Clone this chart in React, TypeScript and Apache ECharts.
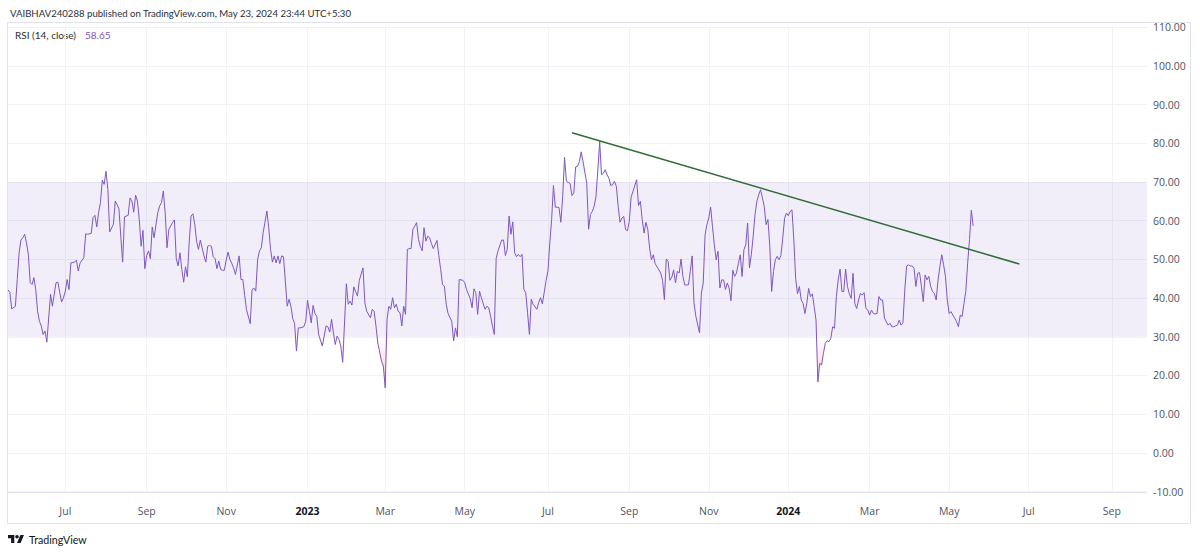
import React, { useEffect, useRef } from "react";
import * as echarts from "echarts";

const headerText = "VAIBHAV240288 published on TradingView.com, May 23, 2024 23:44 UTC+5:30";
const indicatorName = "RSI (14, close)";
const brandName = "TradingView";

// time scale: one slot per weekday bar, running past the last bar into the future
const axisStartDate = "2022-05-19";
const axisBarCount = 617;
const monthNames = ["Jan", "Feb", "Mar", "Apr", "May", "Jun", "Jul", "Aug", "Sep", "Oct", "Nov", "Dec"];

// price scale
const yMin = -10;
const yMax = 110;
const yStep = 10;
const bandLow = 30;
const bandHigh = 70;

// RSI readings: [bar index, value]
const rsi2022: [number, number][] = [
  [0,42.1],[1,41.5],[2,37.2],[4,37.9],[5,44.8],[6,51.7],[7,55],[8,55.6],[9,56.5],[10,54.3],[11,51.3],[12,44],[13,43.5],[14,45.3],[15,42.2],[16,36.6],[17,34],[18,32.8],[19,30.6],[20,31.5],[21,28.6],[23,41],[24,37.9],[25,41],[26,44],[27,44.1],[28,41.4],[29,39],[30,40.1],[31,41.8],[32,44.8],[33,42.2],[34,49.1],[36,49.3],[37,49.8],[38,47],[39,49.1],[41,50.4],[42,56.6],[43,56.5],[45,56.7],[46,60.8],[47,61.4],[48,58.4],[49,62.1],[50,64.7],[51,70.5],[52,69.4],[53,72.8],[54,68.1],[55,57.1],[57,59.1],[58,65.1],[60,63.1],[61,56],[62,49.3],[63,61],[65,61.4],[66,65.9],[67,65.1],[68,62.2],[69,66.6],[70,65.1],[71,60.3],[72,53.4],[73,57.5],[74,47.6],[75,51],[76,52.2],[77,50.2],[78,58.4],[79,55.6],[81,62.1],[82,63.8],[83,64.7],[84,67.7],[85,62.1],[86,53],[87,57.8],[89,59.5],[90,60.2],[91,50.2],[92,48.3],[93,51.7],[94,47.4],[95,44.1],[96,48.1],[97,45.5],[98,54.5],[99,61.2],[100,61.8],[101,59.1],[102,54.7],[103,52.6],[104,55],[106,50.9],[107,49.3],[108,53.4],[109,53.6],[110,53.4],[111,50.7],[112,50.2],[113,47.6],[114,49.6],[115,47.4],[116,47.2],[117,47.2],[118,49.8],[119,51.9],[120,50],[121,49],[122,47.8],[123,46.1],[125,50.9],[126,44.8],[127,44.8],[128,40.7],[129,37],[131,33.4],[132,42.2],[133,42.6],[134,41.8],[135,50],[136,52.2],[137,53],[138,56.9],[140,62.5],[141,58.2],[142,52.6],[143,49.3],[144,50.9],[145,49.1],[146,50.9],[147,48.9],[148,50.9],[149,50.7],[151,37.9],[152,39.7],[153,37.9],[154,34.7],[155,33.4],[156,26.3],[157,32.3],[158,32.3],[160,32.6],[161,34]
];
const rsi2023: [number, number][] = [
  [162,39.4],[163,36.6],[164,33.6],[165,38.1],[166,36],[167,35.3],[168,30.6],[170,27.6],[172,32.8],[173,32.6],[174,31.2],[175,34.5],[176,31],[177,28],[178,30.2],[179,29.3],[180,27.6],[181,23.4],[183,43.7],[184,38.4],[185,39.2],[186,38.2],[187,42.9],[189,40.5],[190,44.6],[192,47.8],[193,38.8],[194,36.6],[196,34.9],[197,37.1],[198,36.6],[199,32.8],[200,28.4],[202,23.7],[203,22.4],[204,16.8],[205,34.5],[206,37.9],[207,37.1],[208,40.1],[209,37.5],[210,38.4],[211,36.6],[212,36.2],[213,32.8],[214,37.9],[215,35.8],[216,52.6],[217,52.8],[218,52.8],[219,57.8],[220,58.6],[221,59.5],[222,55.2],[223,53.4],[224,52.2],[225,58.2],[226,54.7],[227,56],[228,55.6],[229,54.1],[230,52.8],[232,54.9],[233,51],[234,47.4],[235,43.5],[236,43.1],[237,38.4],[238,36],[240,34],[241,28.9],[242,32.3],[243,30],[244,44.8],[246,44.6],[247,44],[248,42.2],[250,39.8],[251,37.5],[252,42.4],[253,41.4],[254,35.8],[255,41.8],[256,40.1],[258,37.1],[259,37.9],[260,37.5],[261,35.3],[262,32.8],[263,30.6],[264,50.2],[265,52.2],[267,55],[268,55],[269,51],[270,52.6],[271,61.2],[272,56.5],[273,59.7],[274,51.7],[275,50.7],[276,51.3],[277,50.7],[278,51.3],[279,42.2],[280,41.4],[281,36.2],[282,30.6],[283,39.7],[284,38.4],[286,37.1],[287,38.8],[288,40.1],[289,38.5],[291,44.5],[292,47],[293,54],[294,60.3],[295,69.1],[296,63.5],[297,63.5],[298,63.4],[299,59.6],[300,66.3],[301,76.4],[302,70.2],[303,69.9],[304,69.6],[305,66.5],[306,67.2],[307,73.9],[308,74.1],[309,75.3],[310,77.8],[311,75.3],[313,69.7],[314,57.8],[315,61.6],[316,62.4],[317,63.7],[318,66.3],[319,73.2],[320,80.5],[321,71.9],[322,72.3],[323,73.2],[324,71.9],[325,71],[326,69.1],[327,69.3],[328,70.2],[329,68.9],[330,63.7],[331,59.6],[332,60.7],[333,61.1],[334,57.7],[335,57.4],[336,59.8],[337,66.1],[338,67.6],[340,70.6],[341,63.9],[342,65],[343,60.3],[344,56.8],[345,59.6],[346,57.8],[347,52.9],[348,49.9],[349,51.2],[350,48.9],[352,47.3],[353,46.5],[354,44.6],[355,39.6],[356,50.1],[357,49.5],[358,44.6],[359,45.4],[360,47.3],[361,43.9],[362,46.9],[363,46.5],[364,50.1],[365,45.6],[366,43.4],[368,43.4],[369,46.9],[370,50.9],[371,38.7],[372,35.3],[374,31],[375,41.3],[376,43.9],[377,56.4],[378,59],[379,60.7],[380,63.5],[381,58.5],[382,53.8],[383,49.9],[384,52.1],[385,42.6],[386,44.7],[387,44.7],[388,42.2],[389,43.9],[390,42.6],[391,39.3],[392,47.2],[393,45.6],[394,46.5],[395,49],[396,51.2],[397,45.6],[398,52.5],[399,53.8],[400,59.4],[401,47.8],[402,51.2],[403,55.9],[404,61.6],[405,65],[406,66.7],[407,68],[408,65.9],[409,63.7],[410,59],[411,60.3],[412,53.4],[413,41.7],[414,46.9],[415,49.9],[416,50.8],[417,49.9],[418,51],[419,55.5],[420,60.6],[421,62]
];
const rsi2024: [number, number][] = [
  [422,61.3],[423,62.4],[424,62.8],[425,55],[426,45],[427,41.1],[428,43],[429,39.5],[430,38.6],[431,36],[432,38.6],[433,42.5],[434,40.4],[435,41.1],[436,37.8],[437,34.3],[438,18.3],[439,23.1],[440,22.7],[441,25.7],[442,28.3],[443,29],[444,28.7],[445,29.6],[446,32.6],[447,32.2],[448,40.4],[449,44.7],[450,47.5],[451,41.7],[452,41.7],[453,47.5],[454,43],[455,41.1],[456,39.9],[457,46.4],[458,38.6],[459,37.3],[460,39.5],[461,41.2],[462,40.8],[463,41.4],[464,37.3],[465,36.9],[466,35.6],[467,36.9],[468,36],[469,35.9],[470,36],[471,40.4],[472,39.5],[473,39.5],[474,34.8],[475,33.9],[476,33],[477,33.5],[478,32.6],[479,32.6],[480,32.8],[481,33],[482,34.3],[483,33],[484,33.6],[485,42.1],[486,48.3],[487,48.6],[488,48.3],[489,48.3],[490,47.7],[491,43],[492,46.4],[493,46.6],[494,43],[495,39.1],[496,46],[497,44.7],[498,45.6],[499,43],[500,41.7],[501,41.2],[502,39.5],[503,44.7],[504,48.1],[505,51.2],[506,48.6],[507,45.6],[508,39.5],[509,36],[510,36.5],[511,35.6],[512,34.8],[513,33.9],[514,32.6],[515,35.6],[516,35.2],[517,38.6],[518,41.7],[519,49],[520,55.1],[521,62.7],[522,58.65]
];

// hand-drawn trend line: [bar index, value]
const trendLine: [number, number][] = [[305, 82.75], [547, 48.8]];

const FONT = "'Open Sans', 'Noto Sans', sans-serif";
const HEAD_FONT = "Lato, 'Open Sans', sans-serif";
const TEXT_COLOR = "#131722";
const LABEL_COLOR = "#50535e";
const GRID_COLOR = "#f0f2f7";
const BORDER_COLOR = "#e0e3eb";
const RSI_COLOR = "#7E57C2";

function buildDates(start: string, n: number): string[] {
  const out: string[] = [];
  const d = new Date(start + "T00:00:00Z");
  while (out.length < n) {
    const wd = d.getUTCDay();
    if (wd !== 0 && wd !== 6) out.push(d.toISOString().slice(0, 10));
    d.setUTCDate(d.getUTCDate() + 1);
  }
  return out;
}

const TV_LOGO = "M14 22H7V11H0V4h14v18zM28 22h-8l7.5-18h8L28 22zM24 8a4 4 0 1 1-8 0a4 4 0 1 1 8 0z";
let logoRegistered = false;

export default function App() {
  const ref = useRef<HTMLDivElement>(null);
  useEffect(() => {
    if (!ref.current) return;
    if (!logoRegistered) {
      echarts.graphic.registerShape("tvlogo", echarts.graphic.extendPath(TV_LOGO, {}) as any);
      logoRegistered = true;
    }
    const dates = buildDates(axisStartDate, axisBarCount);
    const monthOf = (i: number) => Number(dates[i].slice(5, 7)) - 1;
    const isTick = (i: number) =>
      i > 0 && monthOf(i) !== monthOf(i - 1) && monthOf(i) % 2 === 0;

    const rsi = [...rsi2022, ...rsi2023, ...rsi2024];
    const overbought = rsi.map(([i, v]) => [i, Math.max(v, bandHigh)]);
    const oversold = rsi.map(([i, v]) => [i, Math.min(v, bandLow)]);
    const lastValue = rsi[rsi.length - 1][1];

    const chart = echarts.init(ref.current, undefined, { renderer: "svg" });
    chart.setOption({
      animation: false,
      backgroundColor: "#ffffff",
      textStyle: { fontFamily: FONT },
      grid: { left: 8, right: 53, top: 27.3, bottom: 61.5, containLabel: false },
      xAxis: {
        type: "category",
        data: dates,
        boundaryGap: false,
        axisLine: { show: false },
        axisTick: { show: false },
        axisLabel: {
          interval: (index: number) => isTick(index),
          margin: 14,
          fontSize: 10.5,
          color: LABEL_COLOR,
          fontFamily: FONT,
          formatter: (value: string) => {
            const m = Number(value.slice(5, 7)) - 1;
            return m === 0 ? `{y|${value.slice(0, 4)}}` : monthNames[m];
          },
          rich: { y: { fontWeight: "bold", color: TEXT_COLOR, fontSize: 10.5, fontFamily: FONT } },
        },
        splitLine: {
          show: true,
          interval: (index: number) => isTick(index),
          lineStyle: { color: GRID_COLOR, width: 1 },
        },
      },
      yAxis: {
        type: "value",
        position: "right",
        min: yMin,
        max: yMax,
        interval: yStep,
        axisLine: { show: false },
        axisTick: { show: false },
        axisLabel: {
          margin: 6,
          fontSize: 10.5,
          color: LABEL_COLOR,
          fontFamily: FONT,
          formatter: (v: number) => v.toFixed(2),
        },
        splitLine: { show: true, lineStyle: { color: GRID_COLOR, width: 1 } },
      },
      series: [
        {
          type: "line",
          data: overbought,
          symbol: "none",
          silent: true,
          z: 1,
          lineStyle: { width: 0, opacity: 0 },
          areaStyle: {
            origin: bandHigh,
            color: new echarts.graphic.LinearGradient(0, 0, 0, 1, [
              { offset: 0, color: "rgba(8,153,129,0.3)" },
              { offset: 1, color: "rgba(8,153,129,0)" },
            ]),
          },
          markArea: {
            silent: true,
            itemStyle: { color: "rgba(126,87,194,0.1)" },
            data: [[{ yAxis: bandLow }, { yAxis: bandHigh }]],
          },
        },
        {
          type: "line",
          data: oversold,
          symbol: "none",
          silent: true,
          z: 1,
          lineStyle: { width: 0, opacity: 0 },
          areaStyle: {
            origin: bandLow,
            color: new echarts.graphic.LinearGradient(0, 0, 0, 1, [
              { offset: 0, color: "rgba(242,54,69,0)" },
              { offset: 1, color: "rgba(242,54,69,0.4)" },
            ]),
          },
        },
        {
          type: "line",
          name: indicatorName,
          data: rsi,
          symbol: "none",
          z: 3,
          lineStyle: { color: RSI_COLOR, width: 1 },
        },
        {
          type: "line",
          data: trendLine,
          symbol: "none",
          z: 4,
          lineStyle: { color: "#2f6b35", width: 1.5 },
        },
      ],
      graphic: [
        {
          type: "rect",
          silent: true,
          shape: { x: 7.5, y: 22.5, width: 1183, height: 501 },
          style: { fill: "none", stroke: BORDER_COLOR, lineWidth: 1 },
          z: 10,
        },
        {
          type: "line",
          silent: true,
          shape: { x1: 7.5, y1: 492.5, x2: 1147, y2: 492.5 },
          style: { stroke: BORDER_COLOR, lineWidth: 1 },
          z: 10,
        },
        {
          type: "text",
          x: 10,
          y: 13,
          style: { text: headerText, fontSize: 9.6, fontFamily: HEAD_FONT, fill: "#2a2e39", verticalAlign: "middle" },
        },
        {
          type: "text",
          x: 15,
          y: 35,
          style: {
            text: `{l|${indicatorName}}{v|${lastValue.toFixed(2)}}`,
            verticalAlign: "middle",
            rich: {
              l: { fontSize: 10, fontFamily: HEAD_FONT, fill: "#2a2e39" } as any,
              v: { fontSize: 10, fontFamily: HEAD_FONT, fill: RSI_COLOR, padding: [0, 0, 0, 9] } as any,
            },
          },
        },
        {
          type: "tvlogo",
          x: 8,
          y: 533.2,
          scaleX: 0.45,
          scaleY: 0.45,
          style: { fill: TEXT_COLOR },
        } as any,
        {
          type: "text",
          x: 29,
          y: 539,
          style: { text: brandName, fontSize: 10.7, fontFamily: HEAD_FONT, fill: TEXT_COLOR, verticalAlign: "middle" },
        },
      ],
    });
    return () => chart.dispose();
  }, []);
  return (
    <div
      ref={ref}
      style={{ position: "absolute", left: 0, top: 0, width: 1200, height: 553, background: "#fff" }}
    />
  );
}
